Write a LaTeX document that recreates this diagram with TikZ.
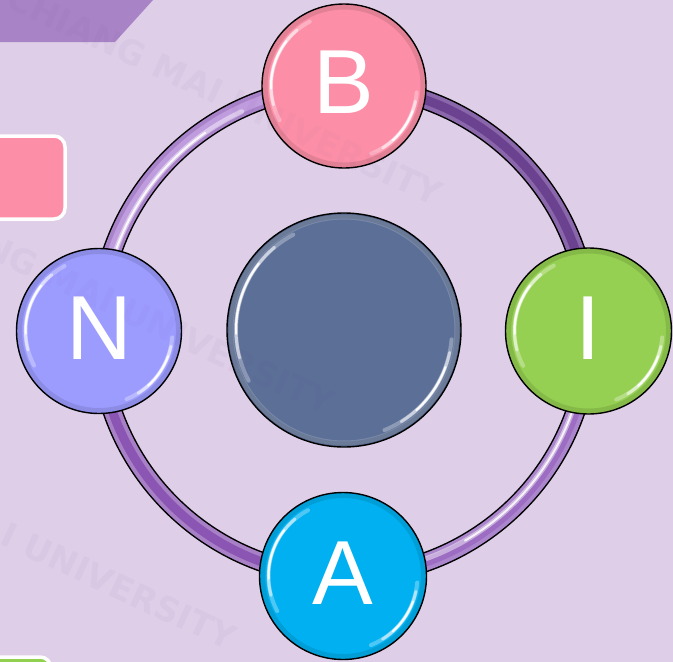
\documentclass[tikz,border=0pt]{standalone}
\usepackage{fontspec}
\setmainfont{Liberation Sans}
\newfontfamily\wmfont{DejaVu Sans}
\definecolor{bg}{HTML}{DECEE8}
\definecolor{banner}{HTML}{A883C6}
\definecolor{pinkrect}{HTML}{FC8FA7}
\definecolor{greenrect}{HTML}{92D050}
\definecolor{colB}{HTML}{FC8FA7}
\definecolor{colN}{HTML}{9C9CFF}
\definecolor{colI}{HTML}{95D052}
\definecolor{colA}{HTML}{00B0F0}
\definecolor{colC}{HTML}{5B6F97}
\definecolor{wmcol}{HTML}{6A3D8A}
\definecolor{urEdge}{HTML}{8A66AA}
\definecolor{urCore}{HTML}{6A4290}
\definecolor{ulEdge}{HTML}{A983C9}
\definecolor{ulCore}{HTML}{BF9CDD}
\definecolor{llEdge}{HTML}{A780C6}
\definecolor{llCore}{HTML}{8B55B3}
\definecolor{lrEdge}{HTML}{AC86CC}
\definecolor{lrCore}{HTML}{9C6DC2}
\tikzset{
  ball/.style={circle, draw=black, line width=1.4, inner sep=0pt},
  letter/.style={text=white, font=\fontsize{91}{91}\selectfont, inner sep=0pt},
  wm/.style={text=wmcol, text opacity=0.035, font=\wmfont\bfseries\fontsize{34}{34}\selectfont, inner sep=0pt},
  hl/.style={white, line cap=round},
}
% gloss: center, radius
\newcommand{\glossball}[2]{%
  \draw[black, opacity=0.10, line width=5] (#1) circle ({#2-3});
  \draw[hl, opacity=0.30, line width=4] (#1) ++(118:{#2-9}) arc[start angle=118, end angle=208, radius={#2-9}];
  \draw[hl, opacity=0.55, line width=3] (#1) ++(130:{#2-9}) arc[start angle=130, end angle=195, radius={#2-9}];
  \draw[hl, opacity=0.95, line width=2] (#1) ++(142:{#2-9}) arc[start angle=142, end angle=182, radius={#2-9}];
  \draw[hl, opacity=0.30, line width=4] (#1) ++(-5:{#2-9}) arc[start angle=-5, end angle=-68, radius={#2-9}];
  \draw[hl, opacity=0.55, line width=3] (#1) ++(-12:{#2-9}) arc[start angle=-12, end angle=-58, radius={#2-9}];
  \draw[hl, opacity=0.95, line width=2] (#1) ++(-20:{#2-9}) arc[start angle=-20, end angle=-48, radius={#2-9}];
}
\begin{document}
\begin{tikzpicture}[x=1pt,y=1pt]
\useasboundingbox (0,0) rectangle (673,-662);
\fill[bg] (0,0) rectangle (673,-662);
% banner and side boxes
\fill[banner] (0,0) -- (153,0) -- (115,-42) -- (0,-42) -- cycle;
\draw[white, line width=3.5, fill=pinkrect, rounded corners=11] (-20,-136) rectangle (65,-219);
\draw[white, line width=3.5, fill=greenrect, rounded corners=11] (-20,-657) rectangle (51,-720);
% ring
\coordinate (O) at (344,-331);
\draw[black, line width=20] (O) circle (245);
\draw[urEdge, line width=17] (O) ++(0:245) arc[start angle=0, end angle=90, radius=245];
\draw[urCore, line width=9] (O) ++(0:245) arc[start angle=0, end angle=90, radius=245];
\draw[ulEdge, line width=17] (O) ++(90:245) arc[start angle=90, end angle=180, radius=245];
\draw[ulCore, line width=9] (O) ++(90:245) arc[start angle=90, end angle=180, radius=245];
\draw[llEdge, line width=17] (O) ++(180:245) arc[start angle=180, end angle=270, radius=245];
\draw[llCore, line width=9] (O) ++(180:245) arc[start angle=180, end angle=270, radius=245];
\draw[lrEdge, line width=17] (O) ++(270:245) arc[start angle=270, end angle=360, radius=245];
\draw[lrCore, line width=9] (O) ++(270:245) arc[start angle=270, end angle=360, radius=245];
\draw[hl, opacity=0.45, line width=5] (O) ++(115:242) arc[start angle=115, end angle=168, radius=242];
\draw[hl, opacity=0.85, line width=2] (O) ++(125:242) arc[start angle=125, end angle=160, radius=242];
\draw[hl, opacity=0.45, line width=5] (O) ++(290:242) arc[start angle=290, end angle=348, radius=242];
\draw[hl, opacity=0.85, line width=2] (O) ++(300:242) arc[start angle=300, end angle=340, radius=242];
% center ball
\node[ball, fill=colC, minimum size=234] (C) at (344,-330) {};
\draw[white, opacity=0.18, line width=5] (C) circle (113);
\glossball{C}{117}
% outer balls
\node[ball, fill=colB, minimum size=164] (B) at (344,-86) {};
\glossball{B}{82}
\node[letter, anchor=base] at ([yshift=-27pt]B.center) {B};
\node[ball, fill=colN, minimum size=165] (N) at (99,-331) {};
\glossball{N}{82.5}
\node[letter, anchor=base] at ([yshift=-28pt]N.center) {N};
\node[ball, fill=colI, minimum size=166] (I) at (588.5,-331) {};
\glossball{I}{83}
\node[letter, anchor=base] at ([yshift=-28pt]I.center) {I};
\node[ball, fill=colA, minimum size=167] (A) at (343,-576) {};
\glossball{A}{83.5}
\node[letter, anchor=base] at ([yshift=-28pt]A.center) {A};
% watermark
\node[wm, rotate=-25, anchor=east] (w1) at (440,-196) {CHIANG MAI UNIVERSITY};
\node[wm, rotate=-25, anchor=east] (w2) at (332,-405) {CHIANG MAI UNIVERSITY};
\node[wm, rotate=-25, anchor=east] (w3) at (234,-640) {CHIANG MAI UNIVERSITY};
\end{tikzpicture}
\end{document}
